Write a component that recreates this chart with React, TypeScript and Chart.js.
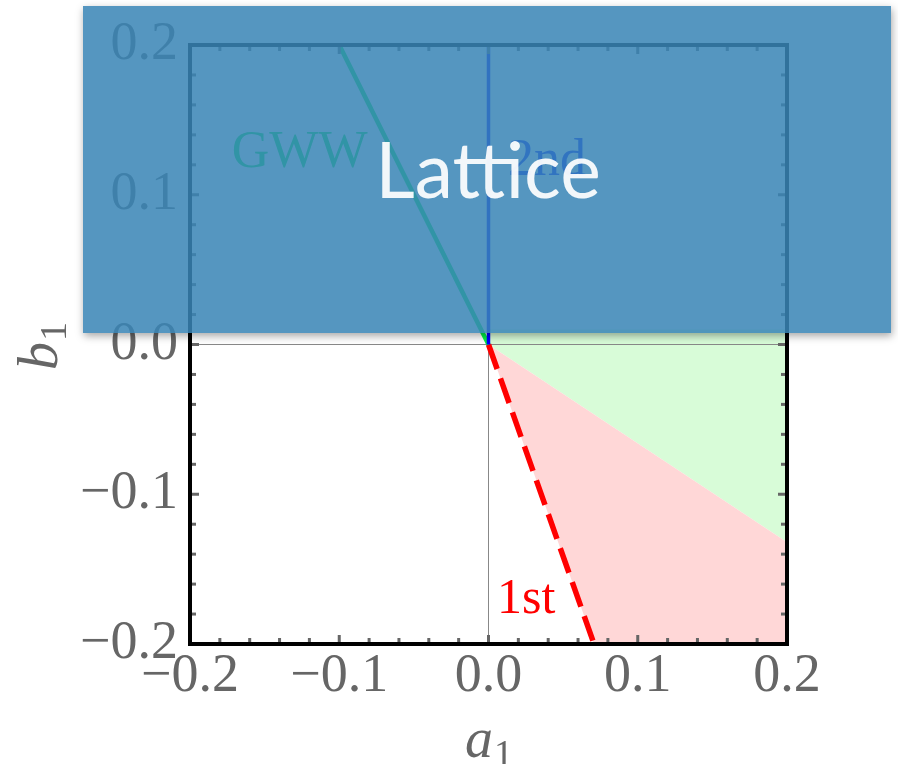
import React, { useEffect, useRef } from 'react';
import { Chart, registerables } from 'chart.js';

Chart.register(...registerables);

// ---- data (axis units: a1 horizontal, b1 vertical) ----
const xTickValues = [-0.2, -0.1, 0, 0.1, 0.2];
const yTickValues = [-0.2, -0.1, 0, 0.1, 0.2];
const minorTickStep = 0.02;

const gwwA = [0, -0.1];
const gwwB = [0, 0.2];
const secondA = [0, 0];
const secondB = [0, 0.2];
const firstA = [0, 0.0707];
const firstB = [0, -0.2];
const pinkA = [0, 0.0707, 0.2, 0.2];
const pinkB = [0, -0.2, -0.2, -0.132];
const greenA = [0, 0.2, 0.2, 0];
const greenB = [0, -0.132, 0.01, 0.01];
const hAxisA = [-0.2, 0.2];
const hAxisB = [0, 0];
const vAxisA = [0, 0];
const vAxisB = [-0.2, 0.2];

const W = 898;
const H = 764;
const SERIF = '"Liberation Serif", "Times New Roman", serif';

const pts = (xs: number[], ys: number[]) => xs.map((x, i) => ({ x, y: ys[i] }));
const fmt = (v: number) => {
  const s = Math.abs(v) < 1e-9 ? '0.0' : Number(v).toFixed(1);
  return s.replace('-', '\u2212');
};

const decorPlugin = {
  id: 'decor',
  afterDatasetsDraw(chart: any) {
    const { ctx, chartArea: ca } = chart;
    const xs = chart.scales.x;
    const ys = chart.scales.y;
    ctx.save();
    // minor / major ticks, inward on all four sides
    ctx.fillStyle = '#666';
    const n = Math.round(0.4 / minorTickStep);
    for (let i = 0; i <= n; i++) {
      const v = -0.2 + i * minorTickStep;
      const major = i % 5 === 0;
      const len = major ? 9 : 6;
      const px = xs.getPixelForValue(v);
      const py = ys.getPixelForValue(v);
      ctx.fillRect(px - 1.5, ca.bottom - len, 3, len);
      ctx.fillRect(px - 1.5, ca.top, 3, len);
      ctx.fillRect(ca.left, py - 1.5, len, 3);
      ctx.fillRect(ca.right - len, py - 1.5, len, 3);
    }
    // frame
    ctx.strokeStyle = '#000';
    ctx.lineWidth = 4;
    ctx.strokeRect(ca.left, ca.top, ca.right - ca.left, ca.bottom - ca.top);

    // curve labels
    ctx.textAlign = 'left';
    ctx.textBaseline = 'alphabetic';
    ctx.font = `52px ${SERIF}`;
    ctx.fillStyle = 'rgb(0,240,70)';
    ctx.fillText('GWW', xs.getPixelForValue(-0.172), ys.getPixelForValue(0.1186));
    ctx.fillStyle = 'rgb(0,20,255)';
    ctx.fillText('2nd', xs.getPixelForValue(0.0131), ys.getPixelForValue(0.1132));
    ctx.font = `50px ${SERIF}`;
    ctx.fillStyle = '#ff0000';
    ctx.fillText('1st', xs.getPixelForValue(0.0057), ys.getPixelForValue(-0.1793));
    ctx.restore();
  },
  afterDraw(chart: any) {
    const { ctx, chartArea: ca } = chart;
    ctx.save();
    // axis titles
    ctx.fillStyle = '#666';
    ctx.textBaseline = 'alphabetic';
    const cx = (ca.left + ca.right) / 2;
    ctx.font = `italic 56px ${SERIF}`;
    const aw = ctx.measureText('a').width;
    ctx.font = `38px ${SERIF}`;
    const sw = ctx.measureText('1').width;
    const ax0 = cx - (aw + sw) / 2;
    ctx.font = `italic 56px ${SERIF}`;
    ctx.fillText('a', ax0, 757);
    ctx.font = `38px ${SERIF}`;
    ctx.fillText('1', ax0 + aw + 1, 766);

    ctx.save();
    ctx.translate(57, (ca.top + ca.bottom) / 2 + 2);
    ctx.rotate(-Math.PI / 2);
    ctx.font = `italic 56px ${SERIF}`;
    const bw = ctx.measureText('b').width;
    const bx0 = -(bw + sw) / 2;
    ctx.fillText('b', bx0, 0);
    ctx.font = `38px ${SERIF}`;
    ctx.fillText('1', bx0 + bw + 1, 9);
    ctx.restore();

    // overlay card
    const ox = 83, oy = 6, ow = 808, oh = 327;
    ctx.save();
    ctx.beginPath();
    ctx.rect(0, 0, W, H);
    ctx.rect(ox, oy, ow, oh);
    ctx.clip('evenodd');
    ctx.shadowColor = 'rgba(0,0,0,0.35)';
    ctx.shadowBlur = 8;
    ctx.shadowOffsetY = 3;
    ctx.shadowOffsetX = 1;
    ctx.fillStyle = '#000';
    ctx.fillRect(ox, oy, ow, oh);
    ctx.restore();

    ctx.fillStyle = 'rgba(57,133,182,0.86)';
    ctx.fillRect(ox, oy, ow, oh);

    ctx.globalAlpha = 0.92;
    ctx.fillStyle = '#ffffff';
    ctx.font = '77px Lato, "Open Sans", sans-serif';
    ctx.textAlign = 'center';
    ctx.fillText('Lattice', 488, 198);
    ctx.restore();
  },
};

export default function App() {
  const ref = useRef<HTMLCanvasElement | null>(null);
  useEffect(() => {
    if (!ref.current) return;
    const lineDs = (label: string, xs: number[], ys: number[], color: string, width: number, dash: number[] = []) => ({
      label,
      data: pts(xs, ys),
      showLine: true,
      borderColor: color,
      borderWidth: width,
      borderDash: dash,
      pointRadius: 0,
      fill: false,
      tension: 0,
    });
    const fillDs = (label: string, xs: number[], ys: number[], color: string) => ({
      label,
      data: pts(xs, ys),
      showLine: true,
      borderWidth: 0,
      borderColor: 'rgba(0,0,0,0)',
      backgroundColor: color,
      pointRadius: 0,
      fill: 'shape',
      tension: 0,
    });
    const chart = new Chart(ref.current, {
      type: 'scatter',
      data: {
        datasets: [
          lineDs('2nd', secondA, secondB, '#0000ff', 3.5),
          lineDs('GWW', gwwA, gwwB, 'rgb(0,240,70)', 4.5),
          lineDs('1st', firstA, firstB, '#ff0000', 5.5, [26, 10]),
          lineDs('axisH', hAxisA, hAxisB, '#888', 1),
          lineDs('axisV', vAxisA, vAxisB, '#888', 1),
          fillDs('pink', pinkA, pinkB, 'rgb(255,215,215)'),
          fillDs('green', greenA, greenB, 'rgb(216,252,216)'),
        ] as any,
      },
      options: {
        animation: false,
        responsive: false,
        devicePixelRatio: 1,
        layout: { padding: { top: 45, right: 111, left: 0, bottom: 0 } },
        plugins: { legend: { display: false }, tooltip: { enabled: false } },
        scales: {
          x: {
            type: 'linear',
            min: -0.2,
            max: 0.2,
            grid: { display: false, drawTicks: false },
            border: { display: false },
            afterBuildTicks: (s: any) => {
              s.ticks = xTickValues.map((v) => ({ value: v }));
            },
            afterFit: (s: any) => {
              s.height = 120;
            },
            ticks: {
              font: { family: SERIF, size: 54 },
              color: '#666',
              padding: 0,
              maxRotation: 0,
              autoSkip: false,
              callback: (v: any) => fmt(Number(v)),
            },
          },
          y: {
            type: 'linear',
            min: -0.2,
            max: 0.2,
            grid: { display: false, drawTicks: false },
            border: { display: false },
            afterBuildTicks: (s: any) => {
              s.ticks = yTickValues.map((v) => ({ value: v }));
            },
            afterFit: (s: any) => {
              s.width = 190;
            },
            ticks: {
              font: { family: SERIF, size: 54 },
              color: '#666',
              padding: 12,
              autoSkip: false,
              callback: (v: any) => fmt(Number(v)),
            },
          },
        },
      } as any,
      plugins: [decorPlugin],
    });
    return () => chart.destroy();
  }, []);
  return (
    <div style={{ position: 'absolute', left: 0, top: 0, width: W, height: H, background: '#fff' }}>
      <canvas ref={ref} width={W} height={H} style={{ display: 'block' }} />
    </div>
  );
}
